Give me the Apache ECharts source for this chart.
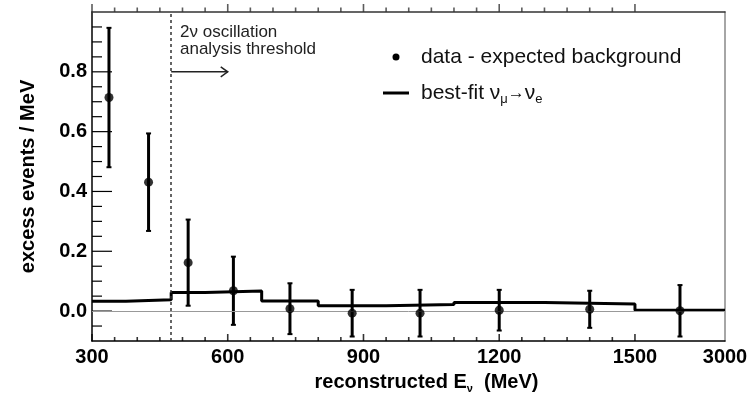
<!DOCTYPE html>
<html>
<head>
<meta charset="utf-8">
<script src="https://cdn.jsdelivr.net/npm/echarts@6/dist/echarts.min.js"></script>
<style>
  html, body { margin: 0; padding: 0; background: #fff; }
  #chart { width: 754px; height: 394px; }
</style>
</head>
<body>
<div id="chart"></div>
<script>
// bins of the best-fit prediction (MeV) and its height per bin
const binEdges = [300, 375, 475, 550, 675, 800, 950, 1100, 1300, 1500, 3000];
const fitValues = [0.033, 0.038, 0.062, 0.067, 0.034, 0.018, 0.022, 0.029, 0.024, 0.003];

// data - expected background, at bin centres
const pointE = [337.5, 425, 512.5, 612.5, 737.5, 875, 1025, 1200, 1400, 2250];
const pointY = [0.714, 0.431, 0.162, 0.068, 0.008, -0.007, -0.007, 0.003, 0.006, 0.001];
const pointErr = [0.233, 0.163, 0.144, 0.114, 0.085, 0.078, 0.078, 0.068, 0.062, 0.086];

const xTickLabels = [300, 600, 900, 1200, 1500, 3000];
const xMajorTicks = [300, 600, 900, 1200, 1500];
const xMinorTicks = [350, 400, 450, 500, 550, 650, 700, 750, 800, 850, 950, 1000, 1050, 1100, 1150, 1250, 1300, 1350, 1400, 1450];
const yTickLabels = [0, 0.2, 0.4, 0.6, 0.8];
const yMinorTicks = [-0.05, 0.05, 0.1, 0.15, 0.25, 0.3, 0.35, 0.45, 0.5, 0.55, 0.65, 0.7, 0.75, 0.85, 0.9, 0.95];
const threshold = 475;

// the axis is linear up to 1500 MeV, the last bin (1500-3000) is squeezed
const K = 199 / 1500;
const tx = e => e <= 1500 ? e : 1500 + (e - 1500) * K;
const untx = v => v <= 1500 ? v : Math.round(1500 + (v - 1500) / K);

const X_MIN = tx(300), X_MAX = tx(3000);
const Y_MIN = -0.1, Y_MAX = 1.0;
const FONT = '"Liberation Sans", Arial, Helvetica, sans-serif';

const chart = echarts.init(document.getElementById('chart'));

const fitData = binEdges.map((e, i) => [tx(e), fitValues[Math.min(i, fitValues.length - 1)]]);
const pointData = pointE.map((e, i) => [tx(e), pointY[i], pointErr[i]]);
const yTickData = yTickLabels.map(v => [v, 1]).concat(yMinorTicks.map(v => [v, 0]));

// x ticks drawn as thin rect symbols sitting on the bottom / top frame
const tickSeries = (values, yVal, h, up, color) => ({
  type: 'scatter',
  data: values.map(v => [tx(v), yVal]),
  symbol: 'rect',
  symbolSize: [1.6, h],
  symbolOffset: [0, -h / 2],
  silent: true,
  clip: false,
  z: 6,
  itemStyle: {color: color}
});

const option = {
  animation: false,
  backgroundColor: '#fff',
  grid: {left: 92, right: 29, top: 12, bottom: 53, containLabel: false, outerBoundsMode: 'none'},
  xAxis: [
    {
      type: 'value', min: X_MIN, max: X_MAX, position: 'bottom',
      splitLine: {show: false},
      axisLine: {show: true, onZero: false, lineStyle: {color: '#000', width: 1.5}},
      axisTick: {show: false},
      axisLabel: {show: true, customValues: xTickLabels.map(tx), formatter: v => String(untx(v)),
        margin: 6, color: '#000', fontFamily: FONT, fontWeight: 'bold', fontSize: 20},
      name: '{b|reconstructed E}{s|ν}{b|  (MeV)}',
      nameLocation: 'middle', nameGap: 29,
      nameTextStyle: {padding: [0, 0, 0, 36],
        rich: {
          b: {fontFamily: FONT, fontWeight: 'bold', fontSize: 20, color: '#000', lineHeight: 24},
          s: {fontFamily: FONT, fontWeight: 'bold', fontSize: 11, color: '#000', verticalAlign: 'bottom', lineHeight: 24}
        }}
    },
    {
      type: 'value', min: X_MIN, max: X_MAX, position: 'top',
      splitLine: {show: false}, axisLabel: {show: false}, axisTick: {show: false},
      axisLine: {show: true, onZero: false, lineStyle: {color: '#333', width: 1.5}}
    }
  ],
  yAxis: [
    {
      type: 'value', min: Y_MIN, max: Y_MAX, position: 'left',
      splitLine: {show: false},
      axisLine: {show: true, onZero: false, lineStyle: {color: '#000', width: 1.5}},
      axisTick: {show: false},
      axisLabel: {show: true, customValues: yTickLabels, formatter: v => v.toFixed(1),
        margin: 5, color: '#000', fontFamily: FONT, fontWeight: 'bold', fontSize: 20},
      name: 'excess events / MeV',
      nameLocation: 'middle', nameGap: 54,
      nameTextStyle: {fontFamily: FONT, fontWeight: 'bold', fontSize: 20, color: '#000'}
    },
    {
      type: 'value', min: Y_MIN, max: Y_MAX, position: 'right',
      splitLine: {show: false}, axisLabel: {show: false}, axisTick: {show: false},
      axisLine: {show: true, onZero: false, lineStyle: {color: '#888', width: 1.5}}
    }
  ],
  series: [
    {
      name: 'zero',
      type: 'line',
      data: [],
      z: 1,
      markLine: {
        silent: true, symbol: 'none', label: {show: false},
        data: [
          {yAxis: 0, lineStyle: {color: '#999', width: 1, type: 'solid'}},
          {xAxis: tx(threshold), lineStyle: {color: '#333', width: 1.5, type: [3, 3]}}
        ]
      }
    },
    {
      name: 'yticks',
      type: 'custom',
      data: yTickData,
      z: 2, silent: true, clip: false,
      encode: {y: 0},
      renderItem: (params, api) => {
        const v = api.value(0), major = api.value(1) === 1;
        const p = api.coord([X_MIN, v]);
        return {type: 'rect', shape: {x: p[0], y: p[1] - 0.6, width: major ? 20 : 10, height: 1.2}, style: {fill: '#000'}};
      }
    },
    tickSeries(xMajorTicks, Y_MIN, 7, true, '#000'),
    tickSeries(xMinorTicks, Y_MIN, 4, true, '#000'),
    tickSeries(xMajorTicks, Y_MAX, 8, true, '#333'),
    tickSeries(xMinorTicks, Y_MAX, 4.5, true, '#333'),
    {
      name: 'best-fit',
      type: 'line',
      step: 'end',
      data: fitData,
      showSymbol: false,
      z: 3,
      lineStyle: {color: '#000', width: 3},
      itemStyle: {color: '#000'}
    },
    {
      name: 'errors',
      type: 'custom',
      data: pointData,
      z: 4,
      encode: {x: 0, y: 1},
      renderItem: (params, api) => {
        const x = api.value(0), y = api.value(1), e = api.value(2);
        const hi = api.coord([x, y + e]);
        const lo = api.coord([x, y - e]);
        const cap = 2.5;
        return {
          type: 'group',
          children: [
            {type: 'line', shape: {x1: hi[0], y1: hi[1], x2: lo[0], y2: lo[1]}, style: {stroke: '#000', lineWidth: 3}},
            {type: 'line', shape: {x1: hi[0] - cap, y1: hi[1], x2: hi[0] + cap, y2: hi[1]}, style: {stroke: '#000', lineWidth: 2}},
            {type: 'line', shape: {x1: lo[0] - cap, y1: lo[1], x2: lo[0] + cap, y2: lo[1]}, style: {stroke: '#000', lineWidth: 2}}
          ]
        };
      }
    },
    {
      name: 'data - expected background',
      type: 'scatter',
      data: pointData.map(d => [d[0], d[1]]),
      z: 5,
      symbol: 'circle',
      symbolSize: 9,
      itemStyle: {color: '#000'}
    }
  ]
};

chart.setOption(option);

// annotations: threshold arrow, text and the legend
const toPx = (x, y) => chart.convertToPixel({xAxisIndex: 0, yAxisIndex: 0}, [x, y]);
const a0 = toPx(tx(threshold), 0.8);
const a1 = toPx(tx(600), 0.8);

chart.setOption({
  graphic: [
    {type: 'line', shape: {x1: a0[0], y1: a0[1], x2: a1[0], y2: a1[1]}, style: {stroke: '#222', lineWidth: 1.5}},
    {type: 'polyline', shape: {points: [[a1[0] - 7, a1[1] - 5], [a1[0], a1[1]], [a1[0] - 7, a1[1] + 5]]},
      style: {stroke: '#222', lineWidth: 1.5, fill: null}},
    {type: 'text', x: 180, y: 32, style: {text: '2ν oscillation', font: '17px ' + FONT, fill: '#222', verticalAlign: 'middle'}},
    {type: 'text', x: 180, y: 49, style: {text: 'analysis threshold', font: '17px ' + FONT, fill: '#222', verticalAlign: 'middle'}},

    {type: 'circle', shape: {cx: 396, cy: 57, r: 3.5}, style: {fill: '#000'}},
    {type: 'text', x: 421, y: 57, style: {text: 'data - expected background', font: '21px ' + FONT, fill: '#111', verticalAlign: 'middle'}},
    {type: 'line', shape: {x1: 383, y1: 93, x2: 409, y2: 93}, style: {stroke: '#000', lineWidth: 3}},
    {type: 'text', x: 421, y: 80,
      style: {
        text: '{a|best-fit ν}{s|μ}{r|→}{a|ν}{s|e}',
        verticalAlign: 'top',
        rich: {
          a: {fontFamily: FONT, fontSize: 21, fill: '#111', lineHeight: 26, verticalAlign: 'middle'},
          s: {fontFamily: FONT, fontSize: 13, fill: '#111', lineHeight: 24, verticalAlign: 'bottom'},
          r: {fontFamily: FONT, fontSize: 17, fill: '#111', lineHeight: 26, verticalAlign: 'middle'}
        }
      }}
  ]
});
</script>
</body>
</html>
